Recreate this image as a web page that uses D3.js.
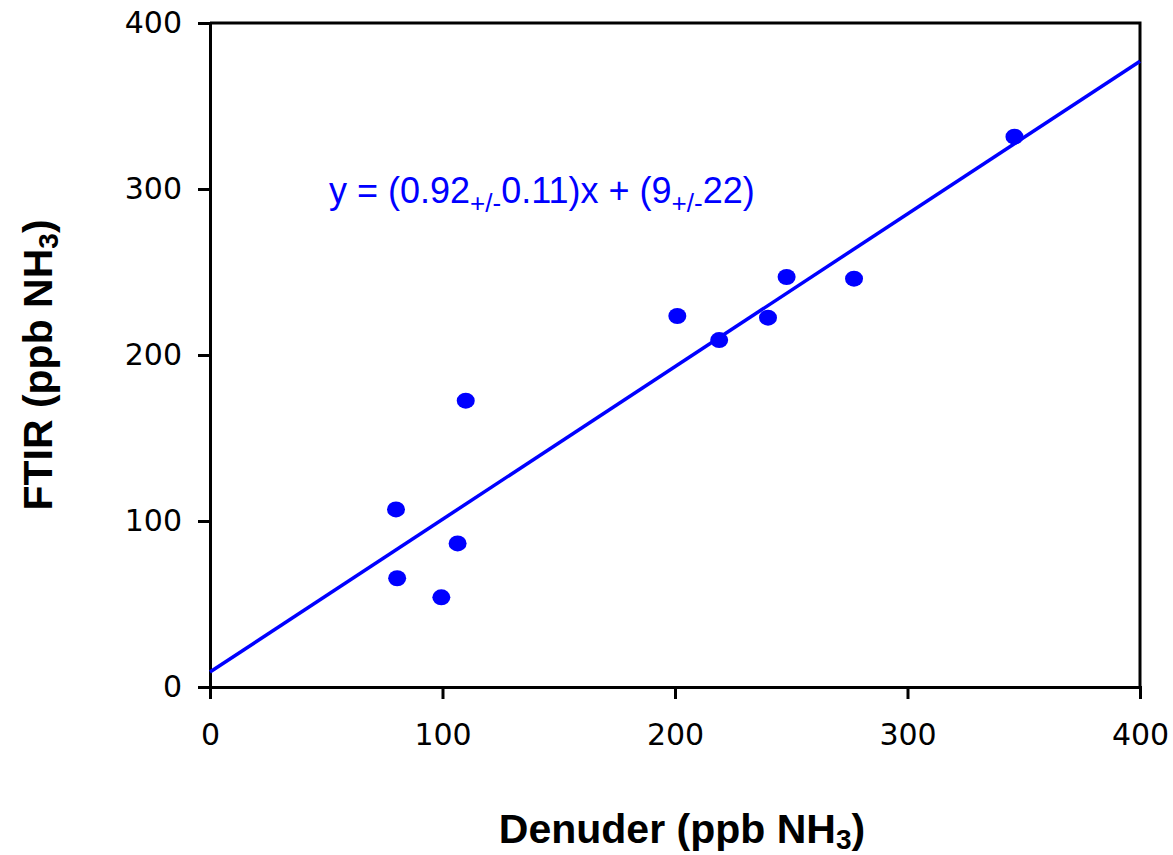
<!DOCTYPE html>
<html>
<head>
<meta charset="utf-8">
<script src="https://cdn.jsdelivr.net/npm/d3@7"></script>
<style>
  body { margin: 0; background: #fff; }
  svg { display: block; }
</style>
</head>
<body>
<div id="chart"></div>
<script>
// --- data ---
const denuder = [80, 80.5, 99.5, 106.5, 110, 201, 219, 240, 248, 277, 346];
const ftir    = [107, 65.5, 54, 86.5, 172.5, 223.5, 209, 222.5, 247, 246, 331.5];
const xTicks  = [0, 100, 200, 300, 400];
const yTicks  = [0, 100, 200, 300, 400];
const fitSlope = 0.92;
const fitIntercept = 9;

const W = 1173, H = 855;
const margin = { top: 23, right: 33, bottom: 168, left: 210 };
const innerW = W - margin.left - margin.right;
const innerH = H - margin.top - margin.bottom;

const svg = d3.select("#chart").append("svg")
  .attr("width", W).attr("height", H);
const g = svg.append("g")
  .attr("transform", `translate(${margin.left},${margin.top})`);

const x = d3.scaleLinear().domain([0, 400]).range([0, innerW]);
const y = d3.scaleLinear().domain([0, 400]).range([innerH, 0]);

// frame (top + right)
g.append("path")
  .attr("d", `M0,0H${innerW}V${innerH}`)
  .attr("fill", "none").attr("stroke", "#000").attr("stroke-width", 3);

// axes
const tickFont = "'DejaVu Sans', sans-serif";
const xAxis = g.append("g")
  .attr("transform", `translate(0,${innerH})`)
  .call(d3.axisBottom(x).tickValues(xTicks).tickSize(12).tickPadding(25));
const yAxis = g.append("g")
  .call(d3.axisLeft(y).tickValues(yTicks).tickSize(12).tickPadding(16));

[xAxis, yAxis].forEach(a => {
  a.select(".domain").attr("stroke", "#000").attr("stroke-width", 3);
  a.selectAll(".tick line").attr("stroke", "#000").attr("stroke-width", 3);
  a.selectAll(".tick text")
    .style("font-family", tickFont)
    .style("font-size", "30px")
    .attr("fill", "#000");
});
xAxis.selectAll(".tick text").attr("dy", "0.71em");

// regression line
g.append("line")
  .attr("x1", x(0)).attr("y1", y(fitIntercept))
  .attr("x2", x(400)).attr("y2", y(fitSlope * 400 + fitIntercept))
  .attr("stroke", "#0000ff").attr("stroke-width", 3.5);

// points
g.selectAll("ellipse.pt")
  .data(denuder.map((d, i) => ({ x: d, y: ftir[i] })))
  .enter().append("ellipse")
  .attr("class", "pt")
  .attr("cx", d => x(d.x))
  .attr("cy", d => y(d.y))
  .attr("rx", 9).attr("ry", 8)
  .attr("fill", "#0000ff");

// equation
const eq = svg.append("text")
  .attr("x", 329).attr("y", 203)
  .attr("fill", "#0000ff")
  .style("font-family", "'Liberation Sans', Arial, sans-serif")
  .style("font-size", "36px");
eq.append("tspan").text("y = (0.92");
eq.append("tspan").attr("dy", 9).style("font-size", "26px").text("+/-");
eq.append("tspan").attr("dy", -9).text("0.11)x + (9");
eq.append("tspan").attr("dy", 9).style("font-size", "26px").text("+/-");
eq.append("tspan").attr("dy", -9).text("22)");

// axis titles
const titleFont = "'Liberation Sans', Arial, sans-serif";
const xt = svg.append("text")
  .attr("x", 682).attr("y", 843)
  .attr("text-anchor", "middle")
  .style("font-family", titleFont).style("font-size", "41px").style("font-weight", "bold");
xt.append("tspan").text("Denuder (ppb NH");
xt.append("tspan").attr("dy", 6).style("font-size", "28px").text("3");
xt.append("tspan").attr("dy", -6).text(")");

const yt = svg.append("text")
  .attr("transform", `translate(52,${margin.top + innerH / 2 + 10}) rotate(-90)`)
  .attr("text-anchor", "middle")
  .style("font-family", titleFont).style("font-size", "41px").style("font-weight", "bold");
yt.append("tspan").text("FTIR (ppb NH");
yt.append("tspan").attr("dy", 6).style("font-size", "28px").text("3");
yt.append("tspan").attr("dy", -6).text(")");
</script>
</body>
</html>
